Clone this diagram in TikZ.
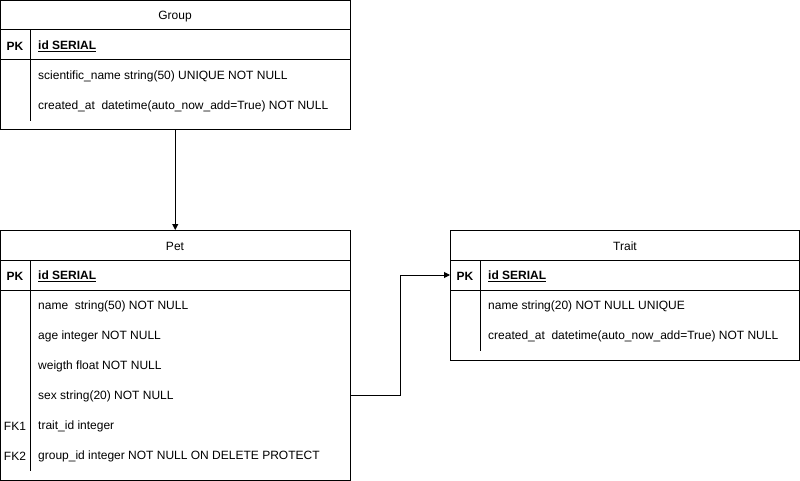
\documentclass[tikz,border=0pt]{standalone}
\usepackage{fontspec}
\setmainfont{Liberation Sans}
\usetikzlibrary{arrows.meta}
\begin{document}
\begin{tikzpicture}[x=1pt,y=-1pt,
  tbl/.style={draw,line width=1pt,inner sep=0pt,outer sep=0pt,anchor=north west},
  ttl/.style={font=\fontsize{12}{14}\selectfont,anchor=center},
  key/.style={font=\fontsize{12}{14}\selectfont\bfseries,anchor=center,inner sep=0pt},
  fk/.style={font=\fontsize{12}{14}\selectfont,anchor=center,inner sep=0pt},
  fld/.style={font=\fontsize{12}{14}\selectfont,anchor=west,inner sep=0pt},
  pkf/.style={font=\fontsize{12}{14}\selectfont\bfseries,anchor=west,inner sep=0pt},
  ln/.style={line width=1pt},
  conn/.style={line width=1pt,-{Triangle[length=6pt,width=6pt]}}
]
\useasboundingbox (0,0) rectangle (800,481);
% Group
\node[tbl,minimum width=349.5pt,minimum height=129.5pt] (group) at (0.5,0.5) {};
\node[ttl] (gt) at (175,16.5) {Group};
\draw[ln] (0.5,30) -- (350,30);
\draw[ln] (0.5,60) -- (350,60);
\draw[ln] (30,30) -- (30,121);
\node[key] (gpk) at (15,46.5) {PK};
\node[pkf] (gid) at (38,46.5) {\underline{id SERIAL}};
\node[fld] (gsn) at (38,76.5) {scientific\_name string(50) UNIQUE NOT NULL};
\node[fld] (gca) at (38,106.5) {created\_at\ \ datetime(auto\_now\_add=True) NOT NULL};
% Pet
\node[tbl,minimum width=349.5pt,minimum height=250pt] (pet) at (0.5,230) {};
\node[ttl] (pt) at (175,246.5) {Pet};
\draw[ln] (0.5,260) -- (350,260);
\draw[ln] (0.5,290) -- (350,290);
\draw[ln] (30,260) -- (30,471);
\node[key] (ppk) at (15,276.5) {PK};
\node[pkf] (pid) at (38,276.5) {\underline{id SERIAL}};
\node[fld] (pname) at (38,306.5) {name\ \ string(50) NOT NULL};
\node[fld] (page) at (38,336.5) {age integer NOT NULL};
\node[fld] (pw) at (38,366.5) {weigth float NOT NULL};
\node[fld] (psex) at (38,396.5) {sex string(20) NOT NULL};
\node[fk] (pfk1) at (15,426.5) {FK1};
\node[fld] (ptr) at (38,426.5) {trait\_id integer};
\node[fk] (pfk2) at (15,456.5) {FK2};
\node[fld] (pgr) at (38,456.5) {group\_id integer NOT NULL ON DELETE PROTECT};
% Trait
\node[tbl,minimum width=349.5pt,minimum height=130pt] (trait) at (450,230) {};
\node[ttl] (tt) at (625,246.5) {Trait};
\draw[ln] (450,260) -- (799.5,260);
\draw[ln] (450,290) -- (799.5,290);
\draw[ln] (480,260) -- (480,351);
\node[key] (tpk) at (465,276.5) {PK};
\node[pkf] (tid) at (488,276.5) {\underline{id SERIAL}};
\node[fld] (tn) at (488,306.5) {name string(20) NOT NULL UNIQUE};
\node[fld] (tca) at (488,336.5) {created\_at\ \ datetime(auto\_now\_add=True) NOT NULL};
% connectors
\coordinate (pout) at (350,395);
\coordinate (tin) at (450,275);
\draw[conn] (group.south) -- (pet.north);
\draw[conn] (pout) -- (400,395) |- (tin);
\end{tikzpicture}
\end{document}
